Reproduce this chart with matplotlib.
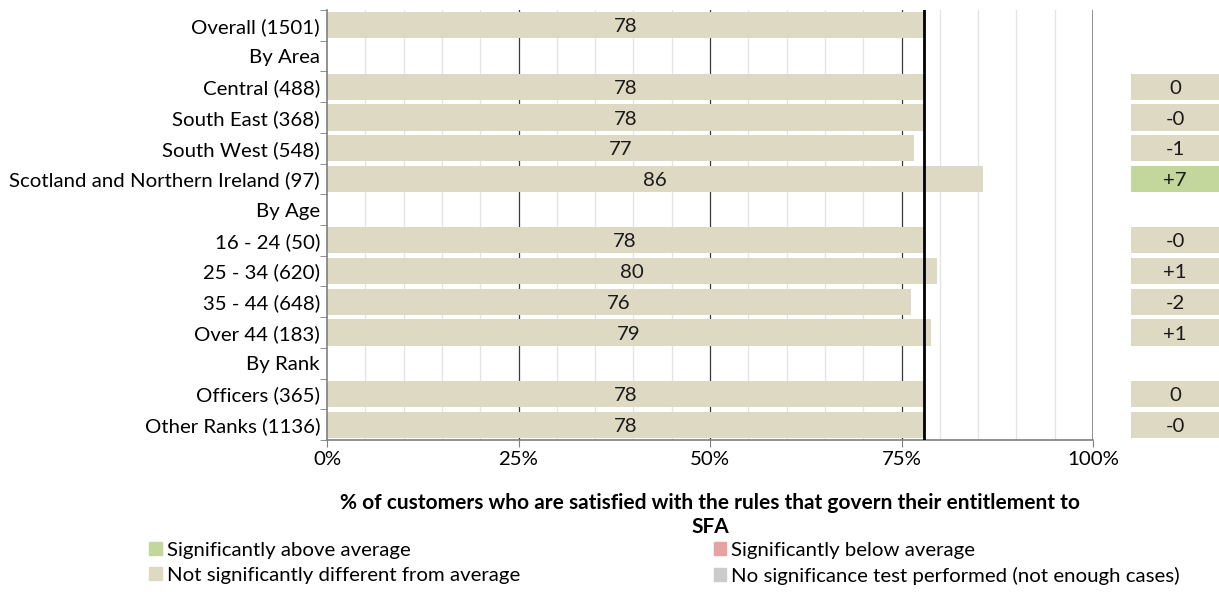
import numpy as np
import matplotlib.pyplot as plt
from matplotlib.patches import Patch

plt.rcParams['font.family'] = ['Lato', 'DejaVu Sans']

# rows top -> bottom, None marks a section header row
labels = ['Overall (1501)', 'By Area', 'Central (488)', 'South East (368)', 'South West (548)',
          'Scotland and Northern Ireland (97)', 'By Age', '16 - 24 (50)', '25 - 34 (620)',
          '35 - 44 (648)', 'Over 44 (183)', 'By Rank', 'Officers (365)', 'Other Ranks (1136)']
values = [78.0, None, 78.1, 77.9, 76.6, 85.6, None, 77.8, 79.6, 76.2, 78.8, None, 77.9, 78.0]
diffs = [None, None, '0', '-0', '-1', '+7', None, '-0', '+1', '-2', '+1', None, '0', '-0']
signif = [None, None, 'ns', 'ns', 'ns', 'above', None, 'ns', 'ns', 'ns', 'ns', None, 'ns', 'ns']
average = 78.0

colors = {'above': '#c3d69b', 'below': '#e6a3a1', 'ns': '#ddd9c3', 'none': '#cbcbcb'}

W, H = 1219, 592
fig = plt.figure(figsize=(W / 100, H / 100), dpi=100)
ax = fig.add_axes([327 / W, 1 - 440 / H, (1093 - 327) / W, 430 / H])

y = np.arange(len(labels))
fs = 14.7

# grid
for g in range(5, 100, 5):
    if g % 25 == 0:
        ax.axvline(g, color='#3a3a3a', lw=0.9, zorder=0)
    else:
        ax.axvline(g, color='#e3e3e3', lw=0.9, zorder=0)
ax.axvline(100, color='#7f7f7f', lw=1.2, zorder=0)

for i, v in enumerate(values):
    if v is None:
        continue
    ax.barh(i, v, height=0.85, color=colors['ns'], zorder=2)
    ax.text(v / 2, i + 0.05, f'{round(v):.0f}', ha='center', va='center', fontsize=fs,
            color='#1a1a1a', zorder=3)

ax.axvline(average, color='black', lw=2, zorder=4)

ax.set_xlim(0, 100)
ax.set_ylim(len(labels) - 0.5, -0.5)
ax.set_xticks([0, 25, 50, 75, 100])
ax.set_xticklabels(['0%', '25%', '50%', '75%', '100%'], fontsize=fs)
ax.set_yticks(y)
ax.set_yticklabels(labels, fontsize=fs)
ax.set_yticks(np.arange(-0.5, len(labels)), minor=True)
ax.tick_params(axis='y', which='major', length=0, pad=5)
ax.tick_params(axis='y', which='minor', length=5, color='#7f7f7f')
ax.tick_params(axis='x', length=5, color='#7f7f7f', pad=3)
for s in ['top', 'right']:
    ax.spines[s].set_visible(False)
for s in ['left', 'bottom']:
    ax.spines[s].set_color('#7f7f7f')
    ax.spines[s].set_linewidth(1.2)

ax.set_xlabel('% of customers who are satisfied with the rules that govern their entitlement to\nSFA',
              fontsize=15, fontweight='bold', labelpad=18, linespacing=1.25)

# difference boxes on the right
ax2 = fig.add_axes([1131 / W, 1 - 440 / H, (W - 1131) / W, 430 / H], sharey=ax)
for i, d in enumerate(diffs):
    if d is None:
        continue
    ax2.barh(i, 1, height=0.85, color=colors[signif[i]])
    ax2.text(0.5, i + 0.05, d, ha='center', va='center', fontsize=fs, color='#1a1a1a')
ax2.set_xlim(0, 1)
ax2.axis('off')

handles = [Patch(color=colors['above'], label='Significantly above average'),
           Patch(color=colors['ns'], label='Not significantly different from average'),
           Patch(color=colors['below'], label='Significantly below average'),
           Patch(color=colors['none'], label='No significance test performed (not enough cases)')]
fig.legend(handles=handles, ncol=2, loc='lower left', bbox_to_anchor=(135 / W, -0.012),
           frameon=False, fontsize=fs, handlelength=0.6, handleheight=0.6,
           handletextpad=0.25, columnspacing=9.5, labelspacing=0.4, borderpad=0.2)

fig.savefig('out.png', dpi=100)
